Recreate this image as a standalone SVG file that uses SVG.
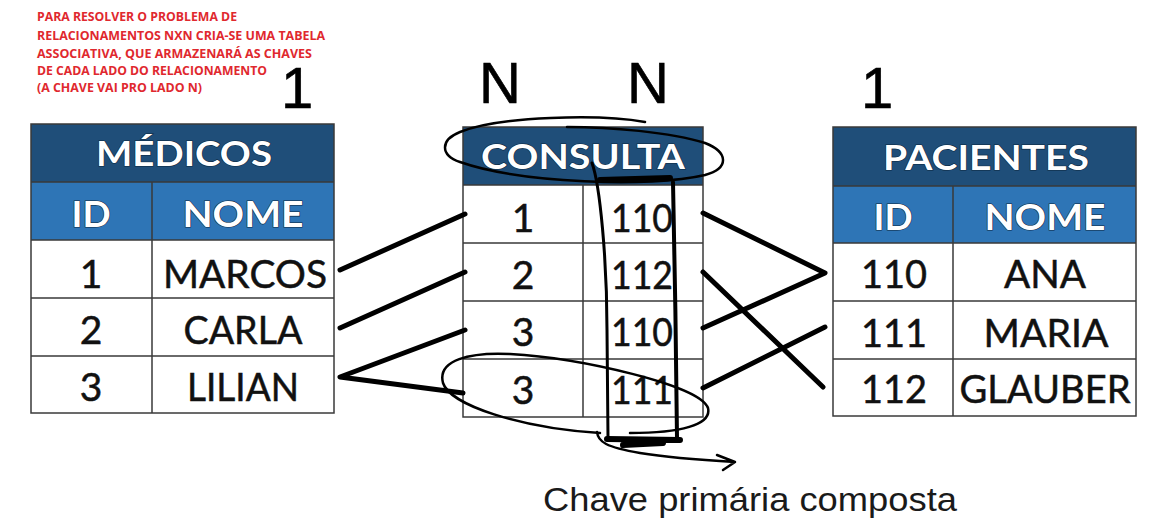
<svg xmlns="http://www.w3.org/2000/svg" width="1165" height="531" viewBox="0 0 1165 531">
<style>
.note{font-family:"Open Sans","Liberation Sans",sans-serif;font-weight:700;font-size:12px;fill:#e0282e}
.big{font-family:"Liberation Sans",Arial,sans-serif;font-size:58px;fill:#000;stroke:#000;stroke-width:0.6}
.hdr{fill:#1f4e79}
.sub{fill:#2e75b6}
.cell{fill:#ffffff}
.grid{fill:none;stroke:#3a3a3a;stroke-width:1.5}
.th{font-family:Lato,"Open Sans",sans-serif;font-size:34px;font-weight:700;fill:#ffffff;stroke:#0c2740;stroke-width:1.2;paint-order:stroke;text-anchor:middle}
.tc{font-family:Lato,"Open Sans",sans-serif;font-size:39px;fill:#111111;stroke:#111111;stroke-width:0.5;text-anchor:middle}
.ink{fill:none;stroke:#000;stroke-linecap:round;stroke-linejoin:round}
.cap{font-family:"Liberation Sans",Arial,sans-serif;font-size:33px;fill:#1a1a1a}
</style>
<rect width="1165" height="531" fill="#ffffff"/>
<g id="note">
<text class="note" x="37" y="21" textLength="200" lengthAdjust="spacingAndGlyphs">PARA RESOLVER O PROBLEMA DE</text>
<text class="note" x="37" y="39.5" textLength="288" lengthAdjust="spacingAndGlyphs">RELACIONAMENTOS NXN CRIA-SE UMA TABELA</text>
<text class="note" x="37" y="57.5" textLength="275" lengthAdjust="spacingAndGlyphs">ASSOCIATIVA, QUE ARMAZENARÁ AS CHAVES</text>
<text class="note" x="37" y="75" textLength="230" lengthAdjust="spacingAndGlyphs">DE CADA LADO DO RELACIONAMENTO</text>
<text class="note" x="37" y="92" textLength="165" lengthAdjust="spacingAndGlyphs">(A CHAVE VAI PRO LADO N)</text>
</g>
<g id="cardinalities">
<text class="big" x="281" y="108">1</text>
<text class="big" x="479" y="103">N</text>
<text class="big" x="627" y="103">N</text>
<text class="big" x="861" y="108">1</text>
</g>
<g id="medicos">
<rect class="hdr" x="31" y="124" width="303" height="58"/>
<rect class="sub" x="31" y="182" width="303" height="58"/>
<rect class="cell" x="31" y="240" width="303" height="173"/>
<rect class="grid" x="31" y="124" width="303" height="289"/>
<path class="grid" d="M31 182H334M31 240H334M31 298H334M31 356H334M152 182V413"/>
<text class="th" x="184" y="166" textLength="176" lengthAdjust="spacingAndGlyphs">MÉDICOS</text>
<text class="th" x="91" y="227" style="font-size:37px">ID</text>
<text class="th" x="243" y="227" style="font-size:37px" textLength="121" lengthAdjust="spacingAndGlyphs">NOME</text>
<text class="tc" x="91" y="288">1</text>
<text class="tc" x="245" y="288" textLength="164" lengthAdjust="spacingAndGlyphs">MARCOS</text>
<text class="tc" x="91" y="344">2</text>
<text class="tc" x="243" y="344" textLength="119" lengthAdjust="spacingAndGlyphs">CARLA</text>
<text class="tc" x="91" y="401">3</text>
<text class="tc" x="243" y="401" textLength="112" lengthAdjust="spacingAndGlyphs">LILIAN</text>
</g>
<g id="consulta">
<rect class="hdr" x="463" y="127" width="240" height="58"/>
<rect class="cell" x="463" y="185" width="240" height="232"/>
<rect class="grid" x="463" y="127" width="240" height="290"/>
<path class="grid" d="M463 185H703M463 243H703M463 301H703M463 359H703M583 185V417"/>
<text class="th" x="583" y="169" textLength="204" lengthAdjust="spacingAndGlyphs">CONSULTA</text>
<text class="tc" x="523" y="232">1</text>
<text class="tc" x="642" y="232" textLength="62" lengthAdjust="spacingAndGlyphs">110</text>
<text class="tc" x="523" y="289">2</text>
<text class="tc" x="642" y="289" textLength="62" lengthAdjust="spacingAndGlyphs">112</text>
<text class="tc" x="523" y="346">3</text>
<text class="tc" x="642" y="346" textLength="62" lengthAdjust="spacingAndGlyphs">110</text>
<text class="tc" x="523" y="404">3</text>
<text class="tc" x="642" y="404" textLength="62" lengthAdjust="spacingAndGlyphs">111</text>
</g>
<g id="pacientes">
<rect class="hdr" x="833" y="127" width="303" height="59"/>
<rect class="sub" x="833" y="186" width="303" height="57"/>
<rect class="cell" x="833" y="243" width="303" height="173"/>
<rect class="grid" x="833" y="127" width="303" height="289"/>
<path class="grid" d="M833 186H1136M833 243H1136M833 301H1136M833 359H1136M953 186V416"/>
<text class="th" x="986" y="170" textLength="206" lengthAdjust="spacingAndGlyphs">PACIENTES</text>
<text class="th" x="893" y="230" style="font-size:37px">ID</text>
<text class="th" x="1045" y="230" style="font-size:37px" textLength="121" lengthAdjust="spacingAndGlyphs">NOME</text>
<text class="tc" x="894" y="288" textLength="66" lengthAdjust="spacingAndGlyphs">110</text>
<text class="tc" x="1045" y="288" textLength="82" lengthAdjust="spacingAndGlyphs">ANA</text>
<text class="tc" x="894" y="347" textLength="66" lengthAdjust="spacingAndGlyphs">111</text>
<text class="tc" x="1046" y="347" textLength="125" lengthAdjust="spacingAndGlyphs">MARIA</text>
<text class="tc" x="894" y="403" textLength="66" lengthAdjust="spacingAndGlyphs">112</text>
<text class="tc" x="1045" y="403" textLength="171" lengthAdjust="spacingAndGlyphs">GLAUBER</text>
</g>
<g id="connectors">
<path class="ink" stroke-width="5" d="M340 270L465 214M340 328L465 272M465 330L340 377L463 393"/>
<path class="ink" stroke-width="5" d="M703 213L825 273L703 328M703 272L823 387M703 388L825 327"/>
<path class="ink" stroke-width="2.5" d="M645 122C600 114 500 116 460 132C440 140 440 155 460 162C520 183 650 188 705 175C730 168 728 152 705 143C670 132 610 127 567 127"/>
<path class="ink" stroke-width="3" d="M592 163C600 185 607 260 607 330L608 438"/>
<path class="ink" stroke-width="4" d="M673 182C675 260 676 360 677 438"/>
<path class="ink" stroke-width="6" d="M600 180L670 178"/>
<path class="ink" stroke-width="6" d="M607 439L680 440M623 445L663 443"/>
<path class="ink" stroke-width="2.5" d="M600 433C520 428 450 405 443 383C437 360 470 352 510 354C580 358 700 385 708 408C712 425 680 433 630 433"/>
<path class="ink" stroke-width="2.5" d="M597 432C598 442 606 447 640 453C670 458 700 460 735 462M717 455L735 462L723 470"/>
</g>
<g id="caption">
<text class="cap" x="543" y="511" textLength="414" lengthAdjust="spacingAndGlyphs">Chave primária composta</text>
</g>
</svg>
